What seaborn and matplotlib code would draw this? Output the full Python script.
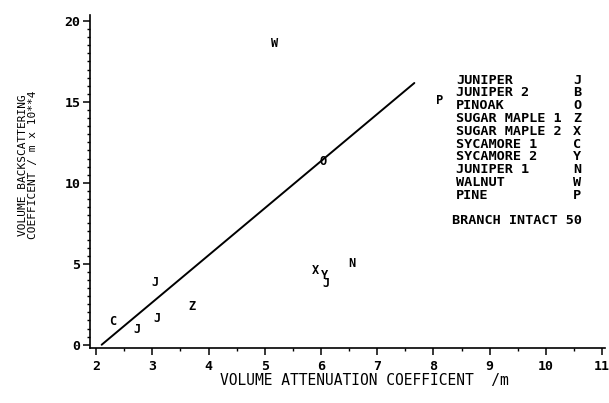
import matplotlib
matplotlib.use("Agg")
import matplotlib.pyplot as plt
import seaborn as sns
import pandas as pd
from matplotlib.ticker import MultipleLocator

# ---- data ----
point_codes = ["C", "J", "J", "J", "Z", "X", "Y", "J", "N", "O", "P", "W"]
point_x = [2.30, 2.73, 3.09, 3.05, 3.71, 5.90, 6.07, 6.09, 6.54, 6.04, 8.10, 5.18]
point_y = [1.42, 0.93, 1.60, 3.83, 2.35, 4.57, 4.30, 3.78, 5.00, 11.30, 15.06, 18.58]

fit_x = [2.10, 7.66]
fit_y = [0.00, 16.17]

legend_names = ["JUNIPER", "JUNIPER 2", "PINOAK", "SUGAR MAPLE 1", "SUGAR MAPLE 2",
                "SYCAMORE 1", "SYCAMORE 2", "JUNIPER 1", "WALNUT", "PINE"]
legend_codes = ["J", "B", "O", "Z", "X", "C", "Y", "N", "W", "P"]
note_text = "BRANCH INTACT 50"

x_ticks = [2, 3, 4, 5, 6, 7, 8, 9, 10, 11]
y_ticks = [0, 5, 10, 15, 20]
x_label = "VOLUME ATTENUATION COEFFICENT  /m"
y_label = "VOLUME BACKSCATTERING\nCOEFFICENT / m x 10**4"

# ---- style ----
sns.set_theme(style="white")
plt.rcParams["font.family"] = ["DejaVu Sans Mono", "DejaVu Sans"]
plt.rcParams["text.color"] = "black"
plt.rcParams["axes.labelcolor"] = "black"
plt.rcParams["xtick.color"] = "black"
plt.rcParams["ytick.color"] = "black"

W, H = 609, 403
fig = plt.figure(figsize=(W / 100, H / 100), dpi=100)
ax = fig.add_axes([90 / W, 1 - 348 / H, (605 - 90) / W, (348 - 15) / H])

df_fit = pd.DataFrame({"x": fit_x, "y": fit_y})
sns.lineplot(data=df_fit, x="x", y="y", ax=ax, color="black", linewidth=1.4)

for c, x, y in zip(point_codes, point_x, point_y):
    ax.text(x, y, c, ha="center", va="center", fontsize=8.6,
            fontweight="bold", color="black")

ax.set_xlim(1.893, 11.05)
ax.set_ylim(-0.2, 20.37)
ax.set_xticks(x_ticks)
ax.set_yticks(y_ticks)
ax.xaxis.set_minor_locator(MultipleLocator(0.5))
ax.yaxis.set_minor_locator(MultipleLocator(0.5))
ax.tick_params(which="major", direction="out", length=5, width=1.1,
               labelsize=9.5, colors="black")
ax.tick_params(which="minor", direction="out", length=2.5, width=1.0, colors="black")
ax.tick_params(axis="x", which="both", bottom=True, pad=4)
ax.tick_params(axis="y", which="both", left=True, pad=2)
for lab in ax.get_xticklabels() + ax.get_yticklabels():
    lab.set_fontweight("bold")
    lab.set_color("black")

for s in ["top", "right"]:
    ax.spines[s].set_visible(False)
for s in ["left", "bottom"]:
    ax.spines[s].set_color("black")
    ax.spines[s].set_linewidth(1.2)

ax.set_xlabel("")
ax.set_ylabel("")
fig.text(364 / W, 1 - 381 / H, x_label, ha="center", va="center", fontsize=10.5,
         color="black")
fig.text(28 / W, 1 - 165 / H, y_label, ha="center", va="center", fontsize=8,
         rotation=90, linespacing=1.0, multialignment="center", color="black")

# legend block
top_px, step_px = 80, 12.8
for i, (n, c) in enumerate(zip(legend_names, legend_codes)):
    yy = 1 - (top_px + i * step_px) / H
    fig.text(456 / W, yy, n, ha="left", va="center", fontsize=9.7,
             fontweight="bold", color="black")
    fig.text(577 / W, yy, c, ha="center", va="center", fontsize=9.7,
             fontweight="bold", color="black")
fig.text(452 / W, 1 - 221 / H, note_text, ha="left", va="center",
         fontsize=9.7, fontweight="bold", color="black")

fig.savefig("out.png", dpi=100)
